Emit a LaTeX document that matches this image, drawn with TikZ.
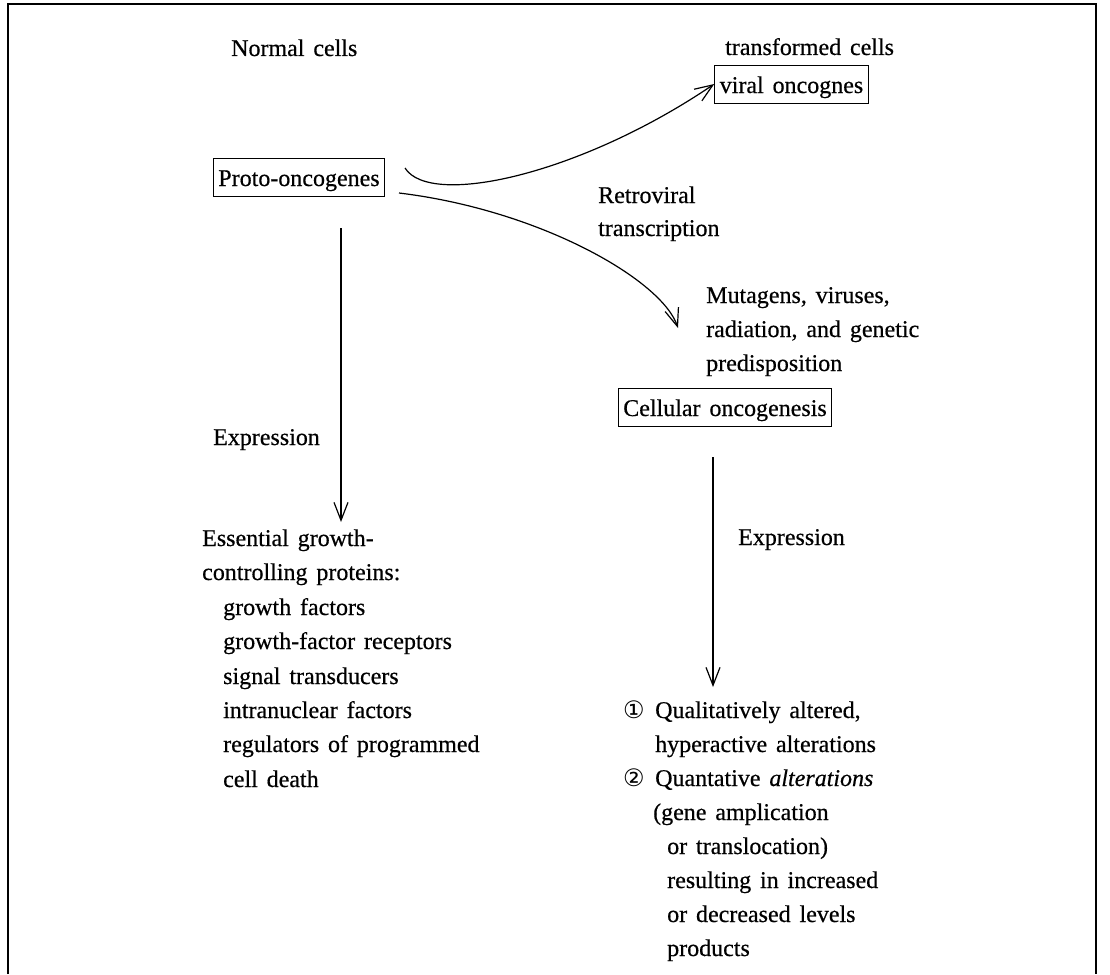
\documentclass[tikz,border=0pt]{standalone}
\usepackage{fontspec}
\setmainfont{Liberation Serif}[FakeBold=0.5]
\newfontfamily\symfont{DejaVu Sans}
\usetikzlibrary{arrows.meta}
\newcommand\txtfont{\fontsize{24}{34}\selectfont\spaceskip=0.37em\relax}
\begin{document}
\begin{tikzpicture}[x=1pt,y=-1pt,
  lbl/.style={anchor=base west,inner sep=0pt,font=\txtfont},
  gbox/.style={draw,line width=1pt,inner xsep=5pt,inner ysep=0pt,minimum height=38pt,text height=19pt,text depth=1pt,font=\txtfont},
  arr/.style={line width=1.2pt,-{Straight Barb[length=18pt,width=14pt,line width=1.2pt]}},
  frameline/.style={line width=1.2pt}]
\useasboundingbox (0,0) rectangle (1110,974);
\draw[frameline] (8,974) -- (8,4) -- (1096,4) -- (1096,974);
% top labels and boxes
\node[lbl] (normal) at (231,56) {Normal cells};
\node[lbl] (transf) at (725,55) {transformed cells};
\node[gbox] (viral) at (791.5,84) {viral oncognes};
\node[gbox] (proto) at (299,177) {Proto-oncogenes};
\node[lbl] (retro1) at (598,203) {Retroviral};
\node[lbl] (retro2) at (598,236) {transcription};
\node[lbl] (mut1) at (706,303) {Mutagens, viruses,};
\node[lbl] (mut2) at (706,337) {radiation, and genetic};
\node[lbl] (mut3) at (706,371) {predisposition};
\node[gbox] (cell) at (725,407) {Cellular oncogenesis};
\node[lbl] (exl) at (213,445) {Expression};
\node[lbl] (exr) at (738,545) {Expression};
% left list
\node[lbl] (e1) at (202,546) {Essential growth-};
\node[lbl] (e2) at (202,580) {controlling proteins:};
\node[lbl] (e3) at (223,615) {growth factors};
\node[lbl] (e4) at (223,649) {growth-factor receptors};
\node[lbl] (e5) at (223,684) {signal transducers};
\node[lbl] (e6) at (223,718) {intranuclear factors};
\node[lbl] (e7) at (223,752) {regulators of programmed};
\node[lbl] (e8) at (223,787) {cell death};
% right list
\node[lbl] (n1) at (623,718) {{\symfont ①}};
\node[lbl] (r1) at (655,718) {Qualitatively altered,};
\node[lbl] (r2) at (655,752) {hyperactive alterations};
\node[lbl] (n2) at (623,786) {{\symfont ②}};
\node[lbl] (r3) at (655,786) {Quantative \textit{alterations}};
\node[lbl] (r4) at (653,820) {(gene amplication};
\node[lbl] (r5) at (667,854) {or translocation)};
\node[lbl] (r6) at (667,888) {resulting in increased};
\node[lbl] (r7) at (667,922) {or decreased levels};
\node[lbl] (r8) at (667,956) {products};
% connectors
\coordinate (a1s) at (405,168);
\draw[arr] (a1s) .. controls (430,208) and (580,175) .. (viral.west);
\coordinate (a2s) at (399,193);
\coordinate (a2e) at (678,328);
\draw[arr] (a2s) .. controls (540,210) and (662,280) .. (a2e);
\coordinate (l1) at (341,228);
\coordinate (l2) at (341,522);
\draw[arr] (l1) -- (l2);
\coordinate (m1) at (713,457);
\coordinate (m2) at (713,687);
\draw[arr] (m1) -- (m2);
\end{tikzpicture}
\end{document}
